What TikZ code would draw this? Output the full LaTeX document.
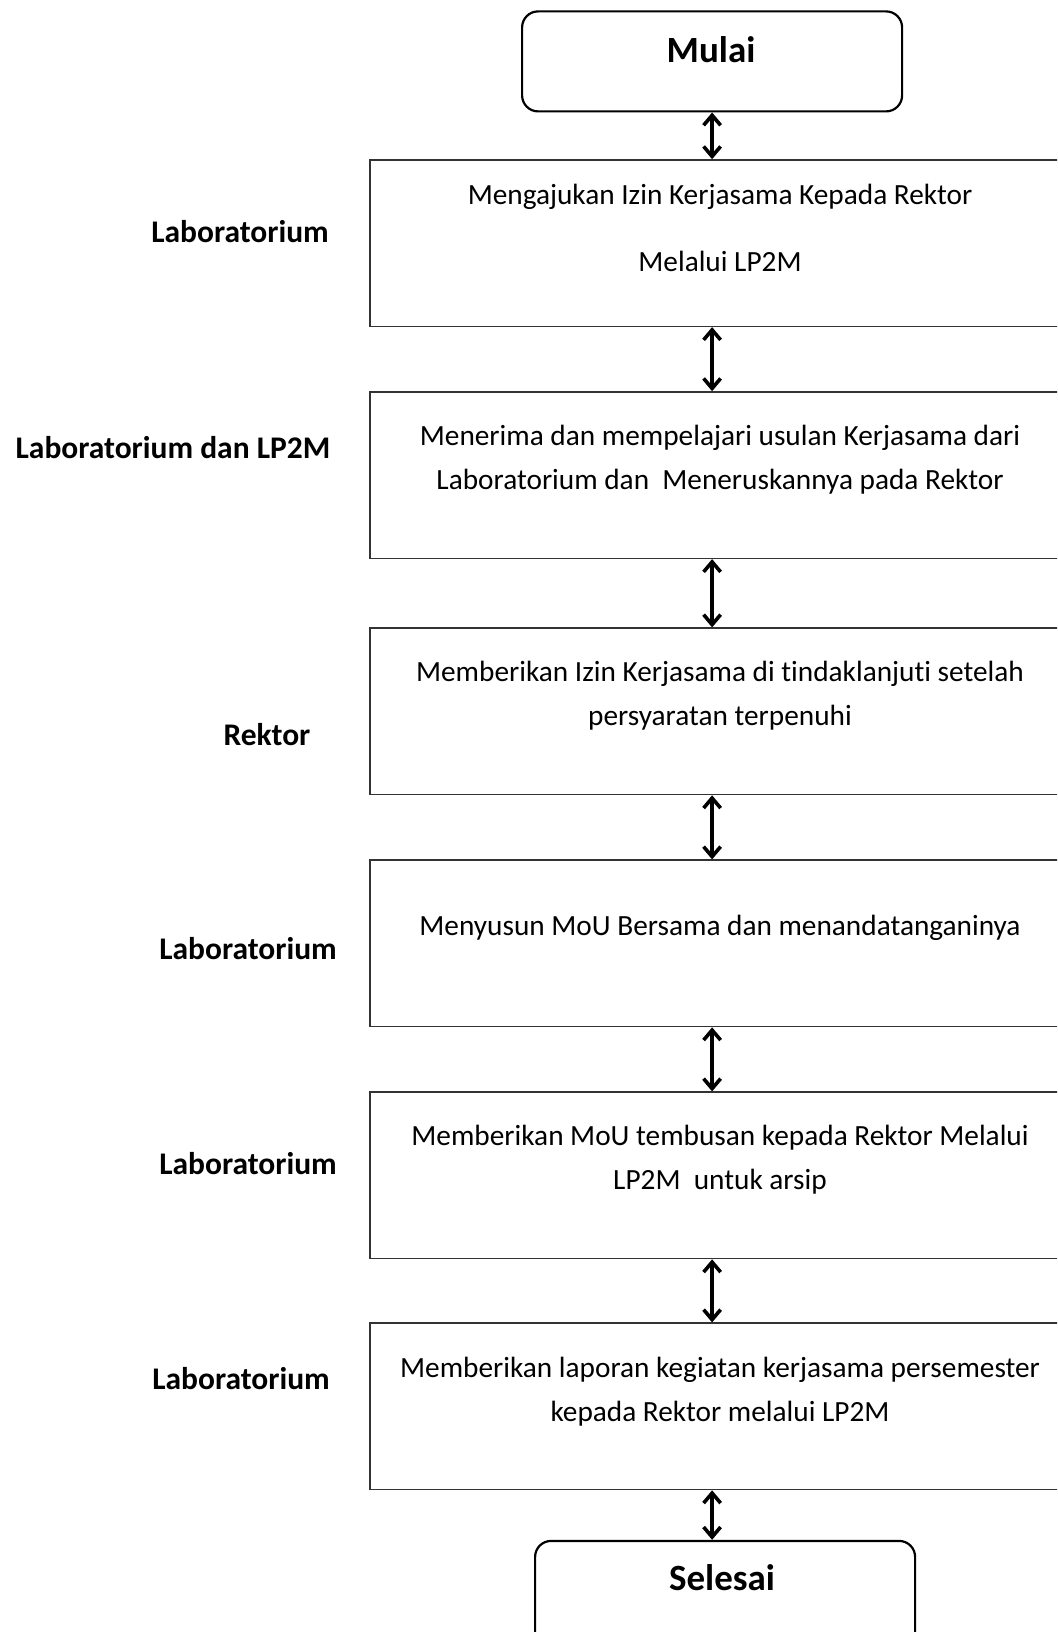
\documentclass[tikz,border=0pt]{standalone}
\usepackage{fontspec}
\setmainfont{Carlito}[Ligatures={NoCommon}]
\usetikzlibrary{arrows.meta}
\begin{document}
\begin{tikzpicture}[x=1pt,y=-1pt,
  stepbox/.style={draw=black!80, line width=1.4pt, minimum width=706pt,
    minimum height=166.5pt, anchor=north west, inner sep=0pt},
  termbox/.style={draw=black, line width=2.2pt, rounded corners=16pt,
    minimum width=380pt, anchor=north west, inner sep=0pt},
  steptext/.style={font=\fontsize{29.3}{44}\selectfont, align=center, inner sep=0pt},
  termtext/.style={font=\bfseries\fontsize{37}{44}\selectfont, inner sep=0pt},
  role/.style={font=\bfseries\fontsize{31.5}{38}\selectfont, inner sep=0pt},
  flow/.style={>={Straight Barb[length=10pt,width=17pt]}, <->, line width=3.6pt}
]
\useasboundingbox (0,0) rectangle (1057,1632);
\clip (0,0) rectangle (1057,1632);

% start and end terminals
\node[termbox, minimum height=100pt] (mulai) at (521,10.3) {};
\node[termtext] (mulaitxt) at (711,50) {Mulai};
\node[termbox, minimum height=140pt] (selesai) at (534,1539.8) {};
\node[termtext] (selesaitxt) at (722,1578) {Selesai};

% process steps (they run past the right edge)
\node[stepbox] (b1) at (369.3,159.2) {};
\node[stepbox] (b2) at (369.3,391.2) {};
\node[stepbox] (b3) at (369.3,627.4) {};
\node[stepbox] (b4) at (369.3,859.4) {};
\node[stepbox] (b5) at (369.3,1091.4) {};
\node[stepbox] (b6) at (369.3,1322.4) {};

\node[steptext, font=\fontsize{29.3}{67}\selectfont] (t1) at (720,228.4)
  {Mengajukan Izin Kerjasama Kepada Rektor\\Melalui LP2M};
\node[steptext] (t2) at (720,459.4)
  {Menerima dan mempelajari usulan Kerjasama dari\\Laboratorium dan\ \ Meneruskannya pada Rektor};
\node[steptext] (t3) at (720,695.5)
  {Memberikan Izin Kerjasama di tindaklanjuti setelah\\persyaratan terpenuhi};
\node[steptext] (t4) at (720,928)
  {Menyusun MoU Bersama dan menandatanganinya};
\node[steptext] (t5) at (720,1160)
  {Memberikan MoU tembusan kepada Rektor Melalui\\LP2M\ \ untuk arsip};
\node[steptext] (t6) at (720,1392)
  {Memberikan laporan kegiatan kerjasama persemester\\kepada Rektor melalui LP2M};

% responsible parties
\node[role] (r1) at (240,232) {Laboratorium};
\node[role] (r2) at (173,448) {Laboratorium dan LP2M};
\node[role] (r3) at (267,734.5) {Rektor};
\node[role] (r4) at (248,949) {Laboratorium};
\node[role] (r5) at (248,1164) {Laboratorium};
\node[role] (r6) at (241,1378.5) {Laboratorium};

% connectors
\draw[flow] (mulai.south) -- (mulai.south |- b1.north);
\draw[flow] (b1.south -| mulai.south) -- (b2.north -| mulai.south);
\draw[flow] (b2.south -| mulai.south) -- (b3.north -| mulai.south);
\draw[flow] (b3.south -| mulai.south) -- (b4.north -| mulai.south);
\draw[flow] (b4.south -| mulai.south) -- (b5.north -| mulai.south);
\draw[flow] (b5.south -| mulai.south) -- (b6.north -| mulai.south);
\draw[flow] (b6.south -| mulai.south) -- (selesai.north -| mulai.south);
\end{tikzpicture}
\end{document}
